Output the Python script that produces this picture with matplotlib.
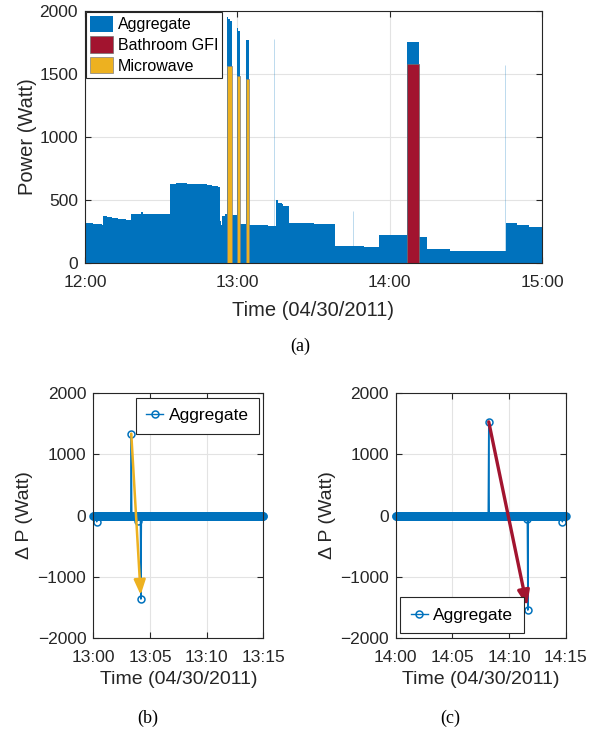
import numpy as np
import matplotlib
matplotlib.use("Agg")
import matplotlib.pyplot as plt

plt.rcParams['font.family'] = ['Liberation Sans', 'DejaVu Sans']

# ---------------- data ----------------
# (a) aggregate power, step breakpoints: minutes after 12:00, Watt
agg_t = [0, 3, 6.6, 6.9, 8.5, 10.5, 13, 16, 18.1, 20, 22, 23, 26, 30,
         33.6, 36, 40, 44, 48, 50, 52.2, 53.2, 53.6, 54.0, 55.0,
         55.8, 56.5, 57.2, 57.9, 59.9, 60.4, 60.9, 63.3, 64.5, 68, 72,
         75.4, 76, 77.5, 78, 80.5, 85, 90, 98.6,
         110, 115.7, 120, 126.7, 131.7, 134.6, 140,
         143.8, 155, 165.65, 170, 175, 180]
agg_p = [315, 312, 305, 372, 362, 358, 350, 345, 385, 392, 405, 392, 388, 385,
         625, 632, 628, 625, 618, 612, 600, 330, 300, 375, 385,
         1955, 1935, 1918, 381, 1862, 1840, 310, 1770, 302, 298, 292,
         500, 480, 470, 450, 318, 315, 312, 135,
         128, 225, 220, 1752, 205, 112, 108,
         95, 94, 320, 300, 285, 272]
# very short single-sample peaks of the aggregate (minutes, Watt)
agg_peak_t = [74.6, 105.4, 165.6]
agg_peak_p = [1780, 410, 1570]
mw_on = [55.8, 59.9, 63.3]
mw_off = [57.9, 60.9, 64.5]
mw_power = [1566, 1487, 1460]
gfi_on = [126.7]
gfi_off = [131.7]
gfi_power = [1577]
top_ticks = [0, 60, 120, 180]
top_ticklabels = ['12:00', '13:00', '14:00', '15:00']

# (b) delta P events, minutes after 13:00
b_event_t = [0.30, 3.35, 3.88, 4.18]
b_event_v = [-104, 1340, -90, -1368]
# (c) delta P events, minutes after 14:00
c_event_t = [8.20, 11.60, 11.65, 14.70]
c_event_v = [1533, -60, -1549, -104]
dt = 0.05  # 3 s samples
bottom_ticks = [0, 5, 10, 15]
b_ticklabels = ['13:00', '13:05', '13:10', '13:15']
c_ticklabels = ['14:00', '14:05', '14:10', '14:15']

BLUE = '#0072BD'
RED = '#A2142F'
YEL = '#EDB120'
DARK = '#262626'
GRID = '#e3e3e3'

fig = plt.figure(figsize=(5.99, 7.31), dpi=100)

def style(ax, tick_fs):
    for s in ax.spines.values():
        s.set_color(DARK)
        s.set_linewidth(0.8)
    ax.tick_params(direction='in', top=True, right=True, length=4,
                   width=0.8, colors=DARK, labelsize=tick_fs, labelcolor=DARK)
    ax.tick_params(axis='x', pad=8.5)
    ax.tick_params(axis='y', pad=5)
    ax.grid(True, color=GRID, lw=0.8)
    ax.set_axisbelow(True)

# ---------------- (a) ----------------
ax = fig.add_axes([85/599, 1-263/731, 457/599, 252/731])
style(ax, 12.5)
ax.fill_between(agg_t, agg_p, step='post', color=BLUE, lw=0, label='Aggregate')
ax.vlines(agg_peak_t, 0, agg_peak_p, color=BLUE, lw=0.6, alpha=0.3)
for i, (a, b, p) in enumerate(zip(gfi_on, gfi_off, gfi_power)):
    ax.fill_between([a, b], [p, p], step='post', facecolor=RED,
                    edgecolor='#707070', lw=0.5,
                    label='Bathroom GFI' if i == 0 else None)
for i, (a, b, p) in enumerate(zip(mw_on, mw_off, mw_power)):
    ax.fill_between([a, b], [p, p], step='post', facecolor=YEL,
                    edgecolor='#808080', lw=0.5,
                    label='Microwave' if i == 0 else None)
ax.set_xlim(0, 180)
ax.set_ylim(0, 2000)
ax.set_xticks(top_ticks)
ax.set_xticklabels(top_ticklabels)
ax.set_yticks([0, 500, 1000, 1500, 2000])
ax.set_xlabel('Time (04/30/2011)', fontsize=14.5, color=DARK, labelpad=8)
ax.set_ylabel('Power (Watt)', fontsize=14.5, color=DARK, labelpad=2)
leg = ax.legend(loc='upper left', fontsize=11.5, frameon=True, fancybox=False,
                edgecolor=DARK, framealpha=1, borderpad=0.25,
                handlelength=1.45, handleheight=1.2, handletextpad=0.3,
                labelspacing=0.25, borderaxespad=0.05)
leg.get_frame().set_linewidth(0.8)

# ---------------- (b), (c) ----------------
def delta_panel(left, ev_t, ev_v, ticklabels, arrow_col, arrow_lw, arrow_idx, legloc):
    ax = fig.add_axes([left/599, 1-637.7/731, 170/599, 244.4/731])
    style(ax, 12.5)
    t = np.arange(0, 15 + dt/2, dt)
    v = np.zeros_like(t)
    for et, ev in zip(ev_t, ev_v):
        v[int(round(et/dt))] = ev
    ax.plot(t, v, '-o', color=BLUE, lw=1.0, ms=5, mfc='none', mew=1.1,
            clip_on=False, label='Aggregate')
    ax.set_xlim(0, 15)
    ax.set_ylim(-2000, 2000)
    ax.set_xticks(bottom_ticks)
    ax.set_xticklabels(ticklabels)
    ax.set_yticks([-2000, -1000, 0, 1000, 2000])
    ax.set_xlabel('Time (04/30/2011)', fontsize=14, color=DARK, labelpad=5)
    ax.set_ylabel('\u0394 P (Watt)', fontsize=14, color=DARK, labelpad=3)
    i0, i1 = arrow_idx
    x0 = round(ev_t[i0]/dt)*dt
    x1 = round(ev_t[i1]/dt)*dt
    ax.annotate('', xy=(x1, ev_v[i1]), xytext=(x0, ev_v[i0]),
                arrowprops=dict(arrowstyle='-|>,head_length=0.9,head_width=0.35',
                                color=arrow_col, lw=arrow_lw, shrinkA=0, shrinkB=3))
    leg = ax.legend(loc=legloc, fontsize=12.5, frameon=True, fancybox=False,
                    edgecolor=DARK, framealpha=1, borderpad=0.6,
                    handlelength=1.0, handletextpad=0.3, numpoints=1,
                    borderaxespad=0.25)
    leg.get_frame().set_linewidth(0.8)
    return ax

delta_panel(93.3, b_event_t, b_event_v, b_ticklabels, YEL, 1.8, (1, 3), 'upper right')
delta_panel(395.8, c_event_t, c_event_v, c_ticklabels, RED, 2.4, (0, 2), 'lower left')

# captions
fig.text(300/599, 1-346/731, '(a)', ha='center', va='center', fontsize=13,
         family='Liberation Serif')
fig.text(148/599, 1-718/731, '(b)', ha='center', va='center', fontsize=13,
         family='Liberation Serif')
fig.text(450/599, 1-718/731, '(c)', ha='center', va='center', fontsize=13,
         family='Liberation Serif')

fig.savefig('out.png', dpi=100)
